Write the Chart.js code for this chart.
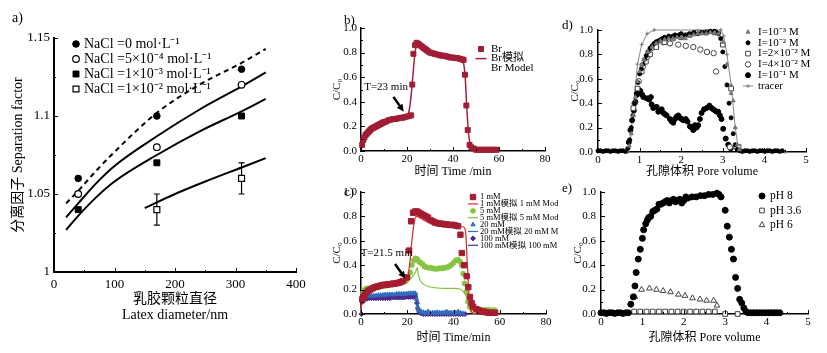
<!DOCTYPE html>
<html>
<head>
<meta charset="utf-8">
<script src="https://cdn.jsdelivr.net/npm/chart.js@4.4.1/dist/chart.umd.min.js"></script>
<style>
  body { margin: 0; background: #fff; width: 827px; height: 353px; position: relative; overflow: hidden; }
  canvas { position: absolute; }
  .tag { position: absolute; font: 13px 'Liberation Serif', serif; line-height: 13px; color: #000; }
</style>
</head>
<body>
<canvas id="pa"></canvas>
<canvas id="pb"></canvas>
<canvas id="pc"></canvas>
<canvas id="pd"></canvas>
<canvas id="pe"></canvas>
<div class="tag" style="left:12px;top:11px;font-size:14px">a)</div>
<div class="tag" style="left:344px;top:13px">b)</div>
<div class="tag" style="left:344px;top:185px">c)</div>
<div class="tag" style="left:562px;top:18px">d)</div>
<div class="tag" style="left:562px;top:181px">e)</div>
<script>
// ---- a) separation factor vs latex diameter
const diam = [40, 170, 310];
const sfNaCl0 = [1.06, 1.10, 1.13];
const sfNaCl5e4 = [1.05, 1.08, 1.12];
const sfNaCl1e3 = [1.04, 1.07, 1.10];
const diam1e2 = [170, 310];
const sfNaCl1e2 = [1.04, 1.06];
const errNaCl1e2 = [0.01, 0.01];
const modelDiam = [20, 40, 70, 100, 170, 240, 310, 350];
const model0 = [1.044, 1.052, 1.065, 1.077, 1.102, 1.120, 1.134, 1.143];
const model5e4 = [1.035, 1.044, 1.057, 1.068, 1.087, 1.104, 1.119, 1.128];
const model1e3 = [1.027, 1.036, 1.048, 1.058, 1.075, 1.090, 1.103, 1.111];
const modelDiam1e2 = [150, 200, 250, 310, 350];
const model1e2 = [1.041, 1.050, 1.058, 1.067, 1.073];

// ---- b) Br breakthrough, [time, C/C0]
const brData = [[0.5,0.05],[1,0.09],[1.5,0.11],[2,0.13],[2.5,0.14],[3,0.15],[3.5,0.16],[4,0.17],[4.5,0.18],[5,0.185],[5.5,0.19],[6,0.195],[6.5,0.2],[7,0.205],[7.5,0.21],[8,0.215],[8.5,0.22],[9,0.225],[9.5,0.23],[10,0.235],[11,0.24],[12,0.25],[13,0.255],[14,0.26],[15,0.26],[16,0.265],[17,0.27],[18,0.27],[19,0.275],[20,0.28],[21,0.285],[21.8,0.29],[22.3,0.54],[22.8,0.79],[23.5,0.86],[24.2,0.88],[25,0.87],[25.7,0.86],[26.4,0.85],[27.1,0.84],[27.8,0.83],[28.5,0.82],[29.2,0.81],[30,0.8],[31,0.795],[32,0.79],[33,0.785],[34,0.78],[35,0.775],[36,0.775],[37,0.77],[38,0.765],[39,0.76],[40,0.76],[41,0.755],[42,0.755],[43,0.75],[44,0.745],[44.6,0.74],[45.2,0.62],[45.8,0.37],[46.4,0.17],[47.2,0.05],[48,0.03],[49,0.02],[50,0.01],[51,0.01],[52,0.01],[53,0.01],[54,0.01],[55,0.01],[56,0.01],[57,0.01],[58,0.01],[59,0.01]];
const brModel = [[0,0],[0.5,0.04],[1,0.07],[2,0.11],[3,0.14],[4,0.16],[6,0.19],[8,0.21],[10,0.23],[13,0.25],[16,0.265],[19,0.28],[20.5,0.3],[21.5,0.4],[22.5,0.6],[23.5,0.8],[24.5,0.87],[25.5,0.86],[27,0.83],[29,0.8],[32,0.78],[36,0.77],[40,0.76],[43,0.75],[44.5,0.72],[45.3,0.6],[46,0.35],[46.7,0.15],[47.5,0.05],[48.5,0.015],[50,0.005],[55,0],[58,0]];

// ---- c) ionic strength series, [time, C/C0]
const c1mM = [[0.5,0.12],[1,0.14],[1.5,0.15],[2,0.17],[3,0.19],[4,0.2],[5,0.21],[6,0.22],[7,0.225],[8,0.23],[9,0.235],[10,0.24],[11,0.24],[12,0.245],[13,0.245],[14,0.25],[15,0.25],[16,0.255],[17,0.26],[18,0.27],[19.8,0.3],[20.8,0.52],[21.7,0.76],[22.5,0.83],[23.4,0.84],[24.3,0.84],[25.2,0.83],[26.1,0.82],[27,0.81],[28,0.8],[29,0.79],[30,0.77],[31,0.76],[32,0.75],[33,0.745],[34,0.74],[35,0.74],[36,0.735],[37,0.735],[38,0.73],[39,0.73],[40,0.73],[41,0.725],[42,0.72],[43,0.65],[43.6,0.5],[44.6,0.4],[45.7,0.31],[46.4,0.22],[47.1,0.14],[47.8,0.09],[48.5,0.06],[49.9,0.04],[51,0.03],[52,0.02],[53,0.02],[54,0.015],[55,0.01],[56,0.01],[57,0.01],[58,0.01]];
const c1mModel = [[0,0],[0.3,0.11],[1,0.14],[3,0.18],[6,0.21],[10,0.23],[15,0.245],[19,0.26],[20,0.28],[21,0.4],[22,0.6],[23,0.75],[23.8,0.8],[25.5,0.79],[27,0.77],[30,0.75],[35,0.74],[40,0.73],[43,0.72],[44.5,0.71],[45.3,0.66],[46,0.4],[46.8,0.12],[47.5,0.03],[49,0.005],[55,0]];
const c5mM = [[0.8,0.17],[1.5,0.2],[2.5,0.21],[3.5,0.21],[4.5,0.21],[5.5,0.22],[6.5,0.22],[7.5,0.22],[8.5,0.23],[9.5,0.23],[10.5,0.23],[11.5,0.235],[12.5,0.24],[13.5,0.24],[14.5,0.245],[15.5,0.25],[16.5,0.255],[17.5,0.26],[18.5,0.265],[19.5,0.27],[20.5,0.3],[21.3,0.34],[22,0.4],[22.8,0.44],[23.5,0.455],[24.3,0.45],[25,0.43],[25.8,0.42],[26.6,0.41],[27.4,0.39],[28.2,0.385],[29,0.38],[30,0.38],[31,0.375],[32,0.37],[33,0.37],[34,0.375],[35,0.375],[36,0.38],[37,0.38],[38,0.39],[39,0.4],[40,0.42],[41,0.44],[42,0.445],[42.8,0.43],[43.5,0.4],[44.2,0.33],[44.8,0.25],[45.5,0.18],[46.3,0.1],[47,0.06],[48,0.05],[49,0.04],[50,0.04],[51,0.035],[52,0.03],[53,0.035],[54,0.03],[55,0.035],[56,0.03],[57,0.03],[58,0.03]];
const c5mModel = [[0,0],[0.3,0.11],[1,0.14],[3,0.19],[6,0.21],[10,0.23],[15,0.245],[19,0.26],[21,0.28],[22.5,0.31],[23.5,0.34],[24.3,0.38],[24.8,0.32],[25.5,0.28],[27,0.245],[29,0.225],[32,0.215],[36,0.21],[40,0.21],[42.8,0.205],[44,0.19],[44.8,0.17],[45.4,0.15],[46.4,0.07],[47.4,0.02],[49,0.005],[52,0]];
const c20mM = [[0.8,0.12],[1.5,0.14],[2.5,0.145],[3.5,0.15],[4.5,0.15],[5.5,0.15],[6.5,0.15],[7.5,0.155],[8.5,0.155],[9.5,0.155],[10.5,0.16],[11.5,0.16],[12.5,0.16],[13.5,0.16],[14.5,0.16],[15.5,0.165],[16.5,0.165],[17.5,0.165],[18.5,0.165],[19.5,0.165],[20.5,0.17],[21.5,0.17],[22.5,0.17],[23.4,0.17],[24,0.12],[24.5,0.06],[25,0.03],[26,0.02],[27,0.015],[28,0.01],[29,0.02],[30,0.01],[31,0.01],[32,0.01],[33,0.015],[34,0.01],[35,0.01],[36,0.01],[37,0.02],[38,0.01],[39,0.01],[40,0.01],[41,0.01],[42,0.02],[43,0.01],[44,0.005]];
const c20mModel = [[0,0],[0.3,0.11],[1,0.14],[3,0.15],[8,0.16],[16,0.17],[23.5,0.175],[24.2,0.17],[24.8,0.05],[25.5,0.01],[27,0],[45,0]];
const c100mM = [[0.2,0],[0.8,0.1],[1.5,0.12],[2.5,0.125],[3.5,0.13],[4.5,0.13],[5.5,0.13],[6.5,0.13],[7.5,0.13],[8.5,0.13],[9.5,0.13],[10.5,0.13],[11.5,0.13],[12.5,0.13],[13.5,0.135],[14.5,0.135],[15.5,0.135],[16.5,0.135],[17.5,0.135],[18.5,0.135],[19.5,0.14],[20.5,0.14],[21.5,0.14],[22.5,0.14],[23.5,0.14],[24.2,0.09],[24.7,0.04],[25.3,0.015],[26,0.005],[27,0],[28,0],[29,0],[30,0],[31,0],[32,0],[33,0],[34,0],[35,0],[36,0],[37,0],[38,0],[39,0],[40,0],[41,0],[42,0],[43,0],[44,0],[45,0]];
const c100mModel = [[0,0],[0.4,0.12],[2,0.13],[10,0.13],[20,0.14],[24,0.14],[24.5,0.04],[25.2,0],[46,0]];

// ---- d) ionic strength vs pore volume, [PV, C/C0]
const dI1e3 = [[0.75,0.05],[0.8,0.15],[0.85,0.3],[0.9,0.45],[0.95,0.58],[1.0,0.66],[1.05,0.72],[1.1,0.76],[1.2,0.82],[1.3,0.86],[1.4,0.89],[1.5,0.91],[1.6,0.92],[1.7,0.93],[1.8,0.93],[1.9,0.94],[2.0,0.94],[2.1,0.93],[2.2,0.95],[2.3,0.96],[2.4,0.97],[2.5,0.97],[2.6,0.97],[2.7,0.98],[2.8,0.98],[2.9,0.97],[3.0,0.9],[3.1,0.72],[3.2,0.48],[3.25,0.42],[3.3,0.2],[3.35,0.06],[3.4,0.02]];
const dI1e2 = [[0,0.01],[0.06,0.01],[0.12,0.005],[0.18,0.01],[0.24,0.01],[0.3,0.005],[0.36,0.01],[0.42,0.01],[0.48,0.005],[0.54,0.01],[0.6,0.01],[0.66,0.005],[0.72,0.03],[0.76,0.1],[0.8,0.2],[0.84,0.3],[0.88,0.4],[0.92,0.48],[0.96,0.57],[1.0,0.64],[1.04,0.68],[1.08,0.72],[1.12,0.76],[1.16,0.79],[1.2,0.82],[1.25,0.85],[1.3,0.87],[1.35,0.89],[1.4,0.9],[1.45,0.91],[1.5,0.92],[1.55,0.93],[1.6,0.94],[1.65,0.93],[1.7,0.95],[1.75,0.94],[1.8,0.95],[1.85,0.96],[1.9,0.95],[1.95,0.96],[2.0,0.97],[2.1,0.96],[2.2,0.97],[2.3,0.98],[2.4,0.97],[2.5,0.98],[2.6,0.98],[2.7,0.99],[2.8,0.99],[2.85,0.98],[2.9,0.97],[2.95,0.93],[3.0,0.82],[3.05,0.7],[3.1,0.55],[3.15,0.4],[3.2,0.28],[3.25,0.15],[3.3,0.06],[3.35,0.02],[3.41,0.01],[3.47,0.005],[3.53,0.01],[3.59,0.01],[3.65,0.005],[3.71,0.01],[3.77,0.01],[3.83,0.005],[3.89,0.01],[3.95,0.01],[4.01,0.005],[4.07,0.01],[4.13,0.01],[4.19,0.005],[4.25,0.01],[4.31,0.01],[4.37,0.005],[4.43,0.01]];
const dI2e2 = [[0.85,0.36],[0.95,0.52],[1.05,0.66],[1.15,0.74],[1.25,0.8],[1.4,0.86],[1.6,0.9],[1.8,0.93],[2.0,0.94],[2.2,0.96],[2.4,0.98],[2.6,0.98],[2.8,0.98],[3.0,0.88],[3.2,0.52],[3.38,0.04]];
const dI4e2 = [[0.88,0.4],[0.98,0.58],[1.08,0.7],[1.18,0.78],[1.28,0.85],[1.41,0.9],[1.57,0.9],[1.73,0.89],[1.93,0.88],[2.11,0.87],[2.29,0.86],[2.46,0.84],[2.62,0.82],[2.78,0.81],[2.84,0.66],[3.17,0.04],[3.33,0.04]];
const dI1e1 = [[0.74,0.08],[0.78,0.18],[0.82,0.26],[0.86,0.34],[0.9,0.41],[0.94,0.47],[0.98,0.51],[1.02,0.5],[1.06,0.47],[1.09,0.45],[1.17,0.44],[1.23,0.43],[1.27,0.45],[1.29,0.39],[1.33,0.36],[1.41,0.37],[1.45,0.33],[1.53,0.35],[1.57,0.32],[1.61,0.31],[1.65,0.3],[1.73,0.27],[1.77,0.25],[1.81,0.24],[1.85,0.27],[1.89,0.29],[1.93,0.3],[1.97,0.28],[2.01,0.27],[2.05,0.26],[2.11,0.27],[2.15,0.25],[2.21,0.21],[2.25,0.2],[2.29,0.18],[2.33,0.22],[2.37,0.2],[2.41,0.22],[2.45,0.27],[2.49,0.32],[2.55,0.35],[2.61,0.36],[2.68,0.38],[2.73,0.36],[2.77,0.35],[2.81,0.34],[2.85,0.33],[2.89,0.33],[2.93,0.3],[2.97,0.27],[3.01,0.19],[3.07,0.11],[3.13,0.06],[3.19,0.03]];
const dTracer = [[0,0],[0.72,0],[0.78,0.1],[0.86,0.4],[0.95,0.72],[1.05,0.88],[1.18,0.97],[1.35,1.0],[2.95,1.0],[3.02,0.95],[3.1,0.8],[3.2,0.55],[3.3,0.2],[3.37,0.03],[3.45,0],[4.5,0]];

// ---- e) pH series, [PV, C/C0]
const ePH8 = [[0,0.01],[0.07,0.01],[0.13,0.005],[0.2,0.01],[0.27,0.01],[0.33,0.005],[0.4,0.01],[0.47,0.01],[0.53,0.005],[0.6,0.01],[0.66,0.01],[0.72,0.08],[0.78,0.14],[0.82,0.23],[0.85,0.34],[0.9,0.45],[0.95,0.53],[1.0,0.62],[1.03,0.69],[1.08,0.74],[1.12,0.77],[1.15,0.79],[1.2,0.8],[1.25,0.84],[1.3,0.85],[1.35,0.86],[1.4,0.9],[1.45,0.9],[1.5,0.91],[1.55,0.92],[1.6,0.93],[1.65,0.91],[1.7,0.93],[1.75,0.94],[1.8,0.92],[1.85,0.93],[1.9,0.94],[1.95,0.91],[2.0,0.93],[2.05,0.96],[2.1,0.95],[2.2,0.96],[2.3,0.96],[2.4,0.97],[2.5,0.97],[2.6,0.98],[2.7,0.98],[2.8,0.99],[2.85,0.98],[2.9,0.96],[3.0,0.85],[3.05,0.72],[3.1,0.63],[3.15,0.53],[3.2,0.45],[3.25,0.3],[3.3,0.21],[3.35,0.12],[3.4,0.09],[3.45,0.05],[3.5,0.02],[3.55,0.01],[3.62,0.01],[3.69,0.01],[3.76,0.01],[3.83,0.01],[3.9,0.01],[3.97,0.01],[4.04,0.01],[4.11,0.01],[4.18,0.01],[4.25,0.01],[4.32,0.01]];
const ePH36 = [[0.8,0.02],[0.95,0.02],[1.1,0.02],[1.25,0.02],[1.4,0.02],[1.55,0.02],[1.7,0.02],[1.85,0.02],[2.0,0.02],[2.15,0.02],[2.3,0.02],[2.45,0.02],[2.6,0.02],[2.75,0.02],[3.0,0.0],[3.3,0.0]];
const ePH6 = [[0.82,0.14],[0.98,0.2],[1.17,0.21],[1.34,0.2],[1.5,0.19],[1.68,0.18],[1.87,0.16],[2.03,0.15],[2.21,0.13],[2.39,0.12],[2.55,0.11],[2.72,0.11],[2.8,0.07]];

const FONT = "'Liberation Serif', 'Noto Sans CJK SC', serif";
Chart.defaults.font.family = FONT;
Chart.defaults.color = '#000';

const xy = arr => arr.map(([x, y]) => ({x, y}));
const zip = (xs, ys) => xs.map((x, i) => ({x, y: ys[i]}));

// small inward tick marks along the two drawn axes
const innerTicks = {
  id: 'innerTicks',
  afterDraw(chart, args, o) {
    const {ctx, chartArea: a, scales: {x, y}} = chart;
    ctx.save();
    ctx.strokeStyle = '#000';
    ctx.lineWidth = 1;
    const run = (sc, step, len) => {
      const n = Math.round((sc.max - sc.min) / step);
      for (let i = 0; i <= n; i++) {
        const p = Math.round(sc.getPixelForValue(sc.min + i * step)) + 0.5;
        ctx.beginPath();
        if (sc.isHorizontal()) { ctx.moveTo(p, a.bottom); ctx.lineTo(p, a.bottom - len); }
        else { ctx.moveTo(a.left, p); ctx.lineTo(a.left + len, p); }
        ctx.stroke();
      }
    };
    run(x, o.xMinor, 2); run(x, x.options.ticks.stepSize, 4);
    run(y, o.yMinor, 2); run(y, y.options.ticks.stepSize, 4);
    ctx.restore();
  }
};

// legend drawn inside the plot
const panelLegend = {
  id: 'panelLegend',
  afterDatasetsDraw(chart, args, o) {
    if (o.tx == null) return;
    const ctx = chart.ctx;
    ctx.save();
    ctx.font = o.font;
    ctx.textBaseline = 'middle';
    let y = o.y;
    chart.data.datasets.forEach(ds => {
      if (!ds.legendText) return;
      if (ds.showLine) {
        ctx.strokeStyle = ds.borderColor;
        ctx.lineWidth = Math.min(ds.borderWidth, 1.5);
        ctx.beginPath(); ctx.moveTo(o.mx - o.lw / 2, y); ctx.lineTo(o.mx + o.lw / 2, y); ctx.stroke();
      }
      if (ds.pointRadius > 0) {
        ctx.fillStyle = ds.backgroundColor;
        ctx.strokeStyle = ds.borderColor;
        ctx.lineWidth = ds.pointBorderWidth;
        Chart.helpers.drawPoint(ctx, {pointStyle: ds.pointStyle, radius: ds.pointRadius, rotation: 0, borderWidth: ds.pointBorderWidth}, o.mx, y);
      }
      ctx.fillStyle = '#000';
      [].concat(ds.legendText).forEach(t => { ctx.fillText(t, o.tx, y); y += o.step; });
    });
    ctx.restore();
  }
};

// text + arrow pointing at the breakthrough time
const arrowNote = {
  id: 'arrowNote',
  afterDatasetsDraw(chart, args, o) {
    if (!o.text) return;
    const {ctx, scales: {x, y}} = chart;
    ctx.save();
    ctx.font = o.font;
    ctx.fillStyle = '#000';
    ctx.textAlign = 'center';
    ctx.textBaseline = 'middle';
    ctx.fillText(o.text, x.getPixelForValue(o.tx), y.getPixelForValue(o.ty));
    const x0 = x.getPixelForValue(o.fx), y0 = y.getPixelForValue(o.fy);
    const x1 = x.getPixelForValue(o.ex), y1 = y.getPixelForValue(o.ey);
    const ang = Math.atan2(y1 - y0, x1 - x0);
    ctx.strokeStyle = '#000';
    ctx.lineWidth = 2.5;
    ctx.beginPath(); ctx.moveTo(x0, y0); ctx.lineTo(x1 - 5 * Math.cos(ang), y1 - 5 * Math.sin(ang)); ctx.stroke();
    ctx.beginPath();
    ctx.moveTo(x1, y1);
    ctx.lineTo(x1 - 8 * Math.cos(ang - 0.45), y1 - 8 * Math.sin(ang - 0.45));
    ctx.lineTo(x1 - 8 * Math.cos(ang + 0.45), y1 - 8 * Math.sin(ang + 0.45));
    ctx.closePath(); ctx.fill();
    ctx.restore();
  }
};

// vertical error bars with caps
const errorBars = {
  id: 'errorBars',
  beforeDatasetsDraw(chart) {
    const {ctx, scales: {x, y}} = chart;
    ctx.save();
    ctx.strokeStyle = '#000';
    ctx.lineWidth = 1.2;
    chart.data.datasets.forEach(ds => {
      if (!ds.errors) return;
      ds.data.forEach((p, i) => {
        const px = x.getPixelForValue(p.x);
        const lo = y.getPixelForValue(p.y - ds.errors[i]), hi = y.getPixelForValue(p.y + ds.errors[i]);
        ctx.beginPath();
        ctx.moveTo(px, lo); ctx.lineTo(px, hi);
        ctx.moveTo(px - 3, lo); ctx.lineTo(px + 3, lo);
        ctx.moveTo(px - 3, hi); ctx.lineTo(px + 3, hi);
        ctx.stroke();
      });
    });
    ctx.restore();
  }
};

Chart.register(innerTicks, panelLegend, arrowNote, errorBars);

function scaleOpts(s, horizontal) {
  return {
    type: 'linear', min: s.min, max: s.max,
    ticks: {stepSize: s.step, padding: s.pad, font: {size: s.size}, color: '#000', callback: s.fmt},
    grid: {display: false, drawTicks: false},
    border: {display: true, color: '#000', width: s.bw || 1.5},
    title: {
      display: true, text: s.title, color: '#000',
      font: {size: s.tsize, lineHeight: s.tlh || 1.2},
      padding: horizontal ? {top: 0, bottom: s.tpad} : {top: s.tpad, bottom: 0}
    },
    afterFit: sc => { if (horizontal) sc.height = s.fit; else sc.width = s.fit; }
  };
}

function panel(id, box, plot, xs, ys, datasets, plugins) {
  const canvas = document.getElementById(id);
  canvas.width = box.w; canvas.height = box.h;
  canvas.style.left = box.left + 'px'; canvas.style.top = box.top + 'px';
  xs.fit = box.top + box.h - plot.b;
  ys.fit = plot.l - box.left;
  return new Chart(canvas, {
    type: 'scatter',
    data: {datasets},
    options: {
      responsive: false, animation: false, devicePixelRatio: 1,
      layout: {padding: {left: 0, top: plot.t - box.top, right: box.left + box.w - plot.r, bottom: 0}},
      plugins: Object.assign({legend: {display: false}, tooltip: {enabled: false}}, plugins),
      scales: {x: scaleOpts(xs, true), y: scaleOpts(ys, false)}
    }
  });
}

const pts = (data, style, r, fill, stroke, label, bw) => ({
  data, pointStyle: style, pointRadius: r, backgroundColor: fill, borderColor: stroke,
  pointBorderWidth: bw == null ? 1 : bw, borderWidth: bw == null ? 1 : bw, showLine: false, legendText: label, clip: false
});
const curve = (data, color, w, label, dash) => ({
  data, showLine: true, pointRadius: 0, borderColor: color, backgroundColor: color, borderWidth: w,
  borderDash: dash || [], cubicInterpolationMode: 'monotone', legendText: label, clip: false
});

const fmt1 = v => v.toFixed(1);
const fmtInt = v => String(Math.round(v));

// a)
const ds1e2 = pts(zip(diam1e2, sfNaCl1e2), 'rect', 4.2, '#fff', '#000', 'NaCl =1×10⁻² mol·L⁻¹', 1.2);
ds1e2.errors = errNaCl1e2;
panel('pa', {left: 0, top: 0, w: 330, h: 353}, {l: 54, t: 38, r: 296, b: 272},
  {min: 0, max: 400, step: 100, pad: 5, size: 13, fmt: fmtInt, title: ['乳胶颗粒直径', 'Latex diameter/nm'], tsize: 14, tlh: 1.15, tpad: 30, bw: 2},
  {min: 1, max: 1.15, step: 0.05, pad: 4, size: 13, fmt: v => String(+v.toFixed(2)), title: '分离因子 Separation factor', tsize: 14, tpad: 10, bw: 2},
  [
    pts(zip(diam, sfNaCl0), 'circle', 3.3, '#000', '#000', 'NaCl =0 mol·L⁻¹'),
    pts(zip(diam, sfNaCl5e4), 'circle', 3.3, '#fff', '#000', 'NaCl =5×10⁻⁴ mol·L⁻¹', 1.2),
    pts(zip(diam, sfNaCl1e3), 'rect', 4.2, '#000', '#000', 'NaCl =1×10⁻³ mol·L⁻¹'),
    ds1e2,
    curve(zip(modelDiam, model0), '#000', 2, null, [5, 4]),
    curve(zip(modelDiam, model5e4), '#000', 2),
    curve(zip(modelDiam, model1e3), '#000', 2),
    curve(zip(modelDiam1e2, model1e2), '#000', 2)
  ],
  {innerTicks: {xMinor: 50, yMinor: 0.025}, panelLegend: {font: '14px ' + FONT, mx: 76, lw: 10, tx: 84, y: 44, step: 15}});

// b)
panel('pb', {left: 330, top: 0, w: 225, h: 180}, {l: 361, t: 28, r: 545, b: 151},
  {min: 0, max: 80, step: 20, pad: 2, size: 11, fmt: fmtInt, title: '时间 Time /min', tsize: 12, tpad: 1},
  {min: 0, max: 1, step: 0.2, pad: 4, size: 11, fmt: fmt1, title: 'C/C₀', tsize: 11, tpad: 0.5},
  [
    pts(xy(brData), 'rect', 3.5, '#9F1E36', '#9F1E36', 'Br'),
    curve(xy(brModel), '#A3233B', 1.5, ['Br模拟', 'Br Model'])
  ],
  {innerTicks: {xMinor: 10, yMinor: 0.1},
   panelLegend: {font: '11px ' + FONT, mx: 151, lw: 11, tx: 161, y: 49, step: 9.6},
   arrowNote: {text: 'T=23 min', font: '11px ' + FONT, tx: 10.9, ty: 0.52, fx: 14.1, fy: 0.44, ex: 18.6, ey: 0.32}});

// c)
panel('pc', {left: 330, top: 180, w: 228, h: 173}, {l: 361, t: 192, r: 546, b: 314},
  {min: 0, max: 80, step: 20, pad: 2, size: 11, fmt: fmtInt, title: '时间 Time/min', tsize: 12, tpad: 8},
  {min: 0, max: 1, step: 0.2, pad: 4, size: 11, fmt: fmt1, title: 'C/C₀', tsize: 11, tpad: 0.5},
  [
    pts(xy(c1mM), 'rect', 3.8, '#A51C30', '#A51C30', '1 mM'),
    curve(xy(c1mModel), '#D8262B', 1.2, '1 mM模拟 1 mM Model'),
    pts(xy(c5mM), 'star', 3, '#86C440', '#86C440', '5 mM', 1.5),
    curve(xy(c5mModel), '#86C440', 1.2, '5 mM模拟 5 mM Model'),
    pts(xy(c20mM), 'triangle', 2.5, '#2F6EBA', '#2F6EBA', '20 mM'),
    curve(xy(c20mModel), '#2F6EBA', 1.2, '20 mM模拟 20 mM Model'),
    pts(xy(c100mM), 'rectRot', 2.5, '#4F2D8F', '#4F2D8F', '100 mM'),
    curve(xy(c100mModel), '#4F2D8F', 1.2, '100 mM模拟 100 mM Model')
  ],
  {innerTicks: {xMinor: 10, yMinor: 0.1},
   panelLegend: {font: '8.5px ' + FONT, mx: 143, lw: 10, tx: 150, y: 17, step: 6.9},
   arrowNote: {text: 'T=21.5 min', font: '11px ' + FONT, tx: 11.1, ty: 0.5, fx: 14.7, fy: 0.41, ex: 19.2, ey: 0.29}});

// d)
panel('pd', {left: 555, top: 0, w: 272, h: 180}, {l: 598, t: 30, r: 806, b: 152},
  {min: 0, max: 5, step: 1, pad: 2, size: 11, fmt: fmtInt, title: '孔隙体积 Pore volume', tsize: 12, tpad: 1},
  {min: 0, max: 1, step: 0.2, pad: 5, size: 11, fmt: fmt1, title: 'C/C₀', tsize: 11, tpad: 13.5},
  [
    pts(xy(dI1e3), 'triangle', 2.3, '#777', '#777', 'I=10⁻³ M'),
    pts(xy(dI1e2), 'circle', 2, '#000', '#000', 'I=10⁻² M'),
    pts(xy(dI2e2), 'rect', 3.3, '#fff', '#444', 'I=2×10⁻² M'),
    pts(xy(dI4e2), 'circle', 2.7, '#fff', '#444', 'I=4×10⁻² M'),
    pts(xy(dI1e1), 'circle', 2.5, '#000', '#000', 'I=10⁻¹ M'),
    Object.assign(curve(xy(dTracer), '#888', 1, 'tracer'), {cubicInterpolationMode: 'default', pointRadius: 2, pointStyle: 'cross', pointBorderWidth: 1, pointBorderColor: '#777'})
  ],
  {innerTicks: {xMinor: 0.5, yMinor: 0.1},
   panelLegend: {font: '11px ' + FONT, mx: 193, lw: 10, tx: 203, y: 32, step: 10.8}});

// e)
panel('pe', {left: 555, top: 180, w: 272, h: 173}, {l: 601, t: 192, r: 808, b: 314},
  {min: 0, max: 5, step: 1, pad: 2, size: 11, fmt: fmtInt, title: '孔隙体积 Pore volume', tsize: 12, tpad: 8},
  {min: 0, max: 1, step: 0.2, pad: 5, size: 11, fmt: fmt1, title: 'C/C₀', tsize: 11, tpad: 16.5},
  [
    pts(xy(ePH8), 'circle', 3, '#000', '#000', 'pH 8'),
    pts(xy(ePH36), 'rect', 3.3, '#fff', '#444', 'pH 3.6'),
    pts(xy(ePH6), 'triangle', 3.3, '#fff', '#444', 'pH 6')
  ],
  {innerTicks: {xMinor: 0.5, yMinor: 0.1},
   panelLegend: {font: '11.5px ' + FONT, mx: 207, lw: 10, tx: 215, y: 16, step: 14.5}});
</script>
</body>
</html>
